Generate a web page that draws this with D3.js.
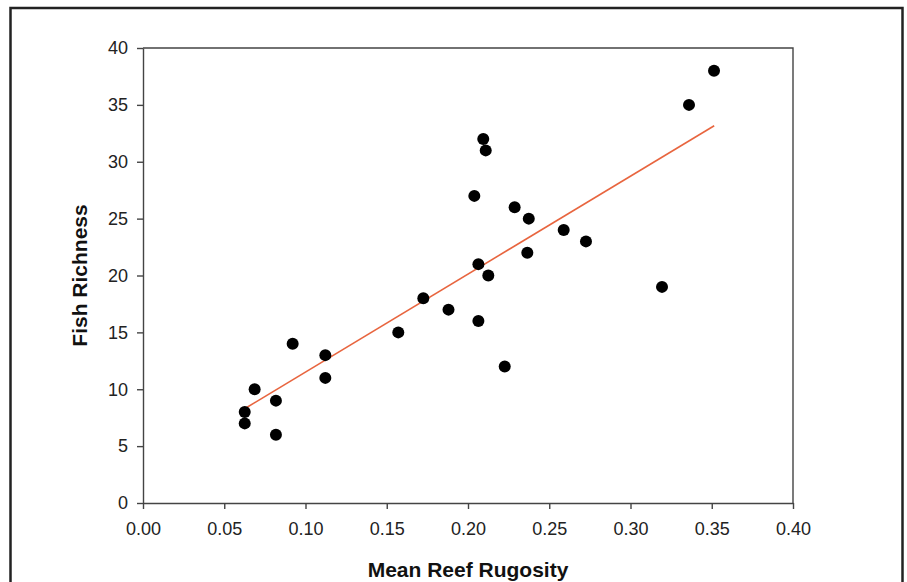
<!DOCTYPE html>
<html>
<head>
<meta charset="utf-8">
<script src="https://cdn.jsdelivr.net/npm/d3@7"></script>
<style>
  body { margin: 0; background: #fff; }
  svg { display: block; font-family: "Liberation Sans", Arial, sans-serif; }
</style>
</head>
<body>
<script>
'use strict';

// values
const rugosity = [0.0626, 0.0626, 0.0687, 0.0818, 0.0818, 0.0921, 0.1122, 0.1122,
  0.1571, 0.1725, 0.1880, 0.2039, 0.2064, 0.2064, 0.2094, 0.2109, 0.2125, 0.2226,
  0.2287, 0.2374, 0.2365, 0.2589, 0.2726, 0.3194, 0.3360, 0.3514];
const richness = [7, 8, 10, 9, 6, 14, 13, 11,
  15, 18, 17, 27, 21, 16, 32, 31, 20, 12,
  26, 25, 22, 24, 23, 19, 35, 38];

// fitted regression line, end points
const fitX = [0.062, 0.3515];
const fitY = [8.24, 33.17];

const xTicks = [0, 0.05, 0.10, 0.15, 0.20, 0.25, 0.30, 0.35, 0.40];
const yTicks = [0, 5, 10, 15, 20, 25, 30, 35, 40];

(function () {
  const width = 907, height = 582;
  const plotLeft = 143, plotRight = 793, plotTop = 48, plotBottom = 503;

  const svg = d3.select('body').append('svg')
    .attr('width', width)
    .attr('height', height);

  // outer frame, bottom runs off the picture
  svg.append('rect')
    .attr('x', 10.5).attr('y', 8)
    .attr('width', 892).attr('height', 620)
    .attr('fill', 'none')
    .attr('stroke', '#222')
    .attr('stroke-width', 2.5);

  const xScale = d3.scaleLinear().domain([0, 0.4]).range([plotLeft, plotRight]);
  const yScale = d3.scaleLinear().domain([0, 40]).range([plotBottom, plotTop]);

  // plot box (top and right sides)
  svg.append('path')
    .attr('d', `M${plotLeft},${plotTop}H${plotRight}V${plotBottom}`)
    .attr('fill', 'none')
    .attr('stroke', '#444')
    .attr('stroke-width', 1.4);

  const xAxis = d3.axisBottom(xScale)
    .tickValues(xTicks)
    .tickFormat(d3.format('.2f'))
    .tickSize(6)
    .tickSizeOuter(0)
    .tickPadding(13);
  const gx = svg.append('g')
    .attr('transform', `translate(0,${plotBottom})`)
    .call(xAxis);

  const yAxis = d3.axisLeft(yScale)
    .tickValues(yTicks)
    .tickFormat(d3.format('d'))
    .tickSize(6)
    .tickSizeOuter(0)
    .tickPadding(9);
  const gy = svg.append('g')
    .attr('transform', `translate(${plotLeft},0)`)
    .call(yAxis);

  [gx, gy].forEach((g) => {
    g.select('.domain').attr('stroke', '#444').attr('stroke-width', 1.4);
    g.selectAll('.tick line').attr('stroke', '#444').attr('stroke-width', 1.4);
    g.selectAll('.tick text')
      .attr('fill', '#222')
      .style('font-size', '18px')
      .style('font-family', '"Liberation Sans", Arial, sans-serif');
  });

  // regression line
  svg.append('line')
    .attr('x1', xScale(fitX[0])).attr('y1', yScale(fitY[0]))
    .attr('x2', xScale(fitX[1])).attr('y2', yScale(fitY[1]))
    .attr('stroke', '#e8653f')
    .attr('stroke-width', 1.6);

  // points
  svg.selectAll('.dot')
    .data(rugosity.map((d, i) => ({ x: d, y: richness[i] })))
    .enter()
    .append('circle')
    .attr('class', 'dot')
    .attr('cx', (d) => xScale(d.x))
    .attr('cy', (d) => yScale(d.y))
    .attr('r', 6)
    .attr('fill', '#000');

  // axis titles
  svg.append('text')
    .attr('x', (plotLeft + plotRight) / 2)
    .attr('y', 577)
    .attr('text-anchor', 'middle')
    .style('font-size', '21px')
    .style('font-weight', 'bold')
    .attr('fill', '#111')
    .text('Mean Reef Rugosity');

  svg.append('text')
    .attr('transform', `translate(87,${(plotTop + plotBottom) / 2})rotate(-90)`)
    .attr('text-anchor', 'middle')
    .style('font-size', '21px')
    .style('font-weight', 'bold')
    .attr('fill', '#111')
    .text('Fish Richness');
})();
</script>
</body>
</html>
